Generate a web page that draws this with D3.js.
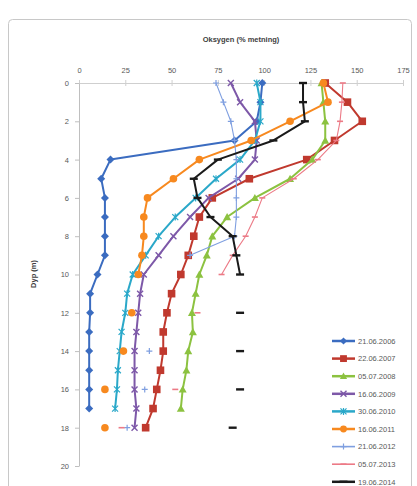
<!DOCTYPE html>
<html><head><meta charset="utf-8">
<script src="https://cdn.jsdelivr.net/npm/d3@7"></script>
<style>
html,body{margin:0;padding:0;background:#fff;}
text{font-family:"Liberation Sans",Arial,sans-serif;}
</style></head>
<body><svg id="c" width="417" height="486"></svg>
<script>
const depths = [0,1,2,3,4,5,6,7,8,9,10,11,12,13,14,15,16,17,18];
const xTicks = [0,25,50,75,100,125,150,175];
const yTicks = [0,2,4,6,8,10,12,14,16,18,20];
const labels = ["21.06.2006","22.06.2007","05.07.2008","16.06.2009","30.06.2010","16.06.2011","21.06.2012","05.07.2013","19.06.2014"];
const s2006 = [99,98,96,84,17,12,14,14,14,14,10,6,6,5.5,5.5,5.5,5.5,5.5,null];
const s2007 = [133,145,153,138,123,92,72,65,62,59,55,50,47.5,45.5,45.5,44,42,40,36];
const s2008 = [131,132,133,133,126,114,95,80,72,69,65,63,61,61.5,59,58,56,55,null];
const s2009 = [82,87,95,96,95,86,70,60,51,43,35,33,32,31,30,30,30,31,30];
const s2010 = [96,98,98,95,87,74,63,52,43,36,29,26,25,23,22,21,20.5,19.5,null];
const s2011 = [132,134.5,114,93,65,51,37,35,35,34,32,null,28.5,null,24,null,14,null,14];
const s2012 = [74,78,82,84,85,85,85,85,84,60,null,null,null,null,38,null,35.5,null,26];
const s2013 = [142.5,142,141,139,129,116,99,95,90,83,77,null,64,null,null,null,52,null,23];
const s2014 = [121,121,122,105,75,62,64,71,83,85,87,null,87,null,87,null,87,null,83];
const seriesValues = [s2006,s2007,s2008,s2009,s2010,s2011,s2012,s2013,s2014];

const colors = ["#3b6cc0","#c0392e","#8cc240","#7d58a8","#2aa8c9","#f7891f","#7f9fe0","#ec7a86","#1a1a1a"];
const widths = [2,2,2,2,2,2,1.1,1.1,2];
const markers = ["diamond","square","triangle","x","star","circle","plus","dash","bigdash"];

const svg = d3.select("#c");
svg.append("rect").attr("x",8.5).attr("y",19.5).attr("width",403).attr("height",520)
  .attr("rx",4).attr("fill","#fff").attr("stroke","#c8c8c8");

const x = d3.scaleLinear().domain([0,175]).range([79,403]);
const y = d3.scaleLinear().domain([0,20]).range([83,466]);

const xa = svg.append("g").attr("transform","translate(0,83)")
  .call(d3.axisTop(x).tickValues(xTicks).tickSize(4).tickPadding(6).tickSizeOuter(0));
xa.select(".domain").attr("stroke","#cfcfcf");
xa.selectAll(".tick line").attr("stroke","#cfcfcf").attr("y2",-3).attr("y1",3);
xa.selectAll(".tick text").attr("fill","#595959").attr("font-size",7.5);

const ya = svg.append("g").attr("transform","translate(79,0)")
  .call(d3.axisLeft(y).tickValues(yTicks).tickSize(4).tickPadding(6).tickSizeOuter(0));
ya.select(".domain").attr("stroke","#bfbfbf");
ya.selectAll(".tick line").attr("stroke","#bfbfbf");
ya.selectAll(".tick text").attr("fill","#595959").attr("font-size",7.5);

svg.append("text").attr("x",241).attr("y",42).attr("text-anchor","middle")
  .attr("font-size",7.5).attr("font-weight","bold").attr("fill","#404040").text("Oksygen (% metning)");
svg.append("text").attr("transform","translate(36,274) rotate(-90)").attr("text-anchor","middle")
  .attr("font-size",7.5).attr("font-weight","bold").attr("fill","#404040").text("Dyp (m)");

function drawMarker(g, type, color, size){
  const s = size||1;
  switch(type){
    case "diamond": g.append("path").attr("d",`M0,${-4*s}L${4*s},0L0,${4*s}L${-4*s},0Z`).attr("fill",color); break;
    case "square": g.append("rect").attr("x",-3.8*s).attr("y",-3.8*s).attr("width",7.6*s).attr("height",7.6*s).attr("fill",color); break;
    case "triangle": g.append("path").attr("d",`M0,${-4*s}L${4*s},${3.2*s}L${-4*s},${3.2*s}Z`).attr("fill",color); break;
    case "x": g.append("path").attr("d",`M-3,-3L3,3M-3,3L3,-3`).attr("stroke",color).attr("stroke-width",1.4).attr("fill","none"); break;
    case "star": g.append("path").attr("d",`M-3,-3L3,3M-3,3L3,-3M0,-3.5V3.5`).attr("stroke",color).attr("stroke-width",1.2).attr("fill","none"); break;
    case "circle": g.append("circle").attr("r",3.8*s).attr("fill",color); break;
    case "plus": g.append("path").attr("d",`M-3,0H3M0,-3V3`).attr("stroke",color).attr("stroke-width",1.2).attr("fill","none"); break;
    case "dash": g.append("path").attr("d",`M-3,0H3`).attr("stroke",color).attr("stroke-width",1.6).attr("fill","none"); break;
    case "bigdash": g.append("path").attr("d",`M-4,0H4`).attr("stroke",color).attr("stroke-width",2.4).attr("fill","none"); break;
  }
}

const line = d3.line().defined(d=>d[1]!=null).x(d=>x(d[1])).y(d=>y(d[0]));
seriesValues.forEach((vals,i)=>{
  const data = depths.map((d,j)=>[d,vals[j]]);
  const g = svg.append("g");
  g.append("path").datum(data).attr("d",line).attr("fill","none")
    .attr("stroke",colors[i]).attr("stroke-width",widths[i]).attr("stroke-linejoin","round");
  data.filter(d=>d[1]!=null).forEach(d=>{
    drawMarker(g.append("g").attr("transform",`translate(${x(d[1])},${y(d[0])})`), markers[i], colors[i]);
  });
});

// legend
const lg = svg.append("g");
labels.forEach((lab,i)=>{
  const yy = 341 + i*17.6;
  lg.append("line").attr("x1",332).attr("x2",355).attr("y1",yy).attr("y2",yy)
    .attr("stroke",colors[i]).attr("stroke-width",widths[i]+0.5);
  drawMarker(lg.append("g").attr("transform",`translate(343.5,${yy})`), markers[i], colors[i], 0.9);
  lg.append("text").attr("x",358).attr("y",yy+2.7).attr("font-size",7.5).attr("fill","#595959").text(lab);
});
</script></body></html>
